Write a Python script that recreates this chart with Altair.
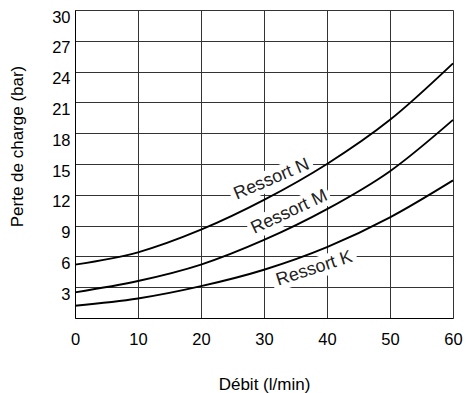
import altair as alt
import pandas as pd

# Data
debit = [0, 10, 20, 30, 40, 50, 60]
ressort_n = [5.2, 6.4, 8.6, 11.5, 15.0, 19.3, 24.8]
ressort_m = [2.5, 3.6, 5.2, 7.6, 10.6, 14.3, 19.3]
ressort_k = [1.2, 1.9, 3.1, 4.7, 6.9, 9.8, 13.4]

x_ticks = [0, 10, 20, 30, 40, 50, 60]
y_ticks = [3, 6, 9, 12, 15, 18, 21, 24, 27, 30]

# Curve labels (annotation anchors in data units)
label_text = ["Ressort N", "Ressort M", "Ressort K"]
label_x = [31.2, 34.0, 38.0]
label_y = [13.5, 10.3, 4.8]
label_angle = [337, 335, 342]

rows = []
for name, vals in [("N", ressort_n), ("M", ressort_m), ("K", ressort_k)]:
    for x, y in zip(debit, vals):
        rows.append({"serie": name, "debit": x, "perte": y})
df = pd.DataFrame(rows)

labels = pd.DataFrame({"txt": label_text, "x": label_x, "y": label_y, "a": label_angle})

FONT = "Liberation Sans"
W, H = 378, 308

xscale = alt.Scale(domain=[0, 60], nice=False, zero=False)
yscale = alt.Scale(domain=[0, 30], nice=False, zero=False)

xaxis = alt.Axis(values=x_ticks, tickCount=20, title="Débit (l/min)", grid=True, ticks=False, tickSize=0,
                 labelPadding=13, titlePadding=29, labelFontSize=16.5, titleFontSize=17,
                 labelFont=FONT, titleFont=FONT, labelColor="black", titleColor="black",
                 titleFontWeight="normal", gridColor="#333", gridOpacity=1, domainColor="black",
                 labelFlush=False, labelOverlap=False)
yaxis = alt.Axis(values=y_ticks, tickCount=20, title="Perte de charge (bar)", grid=True, ticks=False, tickSize=0,
                 labelPadding=5, titlePadding=25, labelFontSize=16.5, titleFontSize=17,
                 labelFont=FONT, titleFont=FONT, labelColor="black", titleColor="black",
                 titleFontWeight="normal", gridColor="#333", gridOpacity=1, domainColor="black",
                 labelBaseline="top", labelOffset=-1, labelFlush=False, labelOverlap=False,
                 titleY=136)

curves = alt.Chart(df).mark_line(color="black", strokeWidth=1.9, interpolate="monotone").encode(
    x=alt.X("debit:Q", scale=xscale, axis=xaxis),
    y=alt.Y("perte:Q", scale=yscale, axis=yaxis),
    detail="serie:N",
)

boxes = alt.Chart(labels).mark_point(
    shape="M-1,-0.24L1,-0.24L1,0.24L-1,0.24Z", filled=True, color="white", opacity=1,
    size=7744, strokeWidth=0,
).encode(
    x=alt.X("x:Q", scale=xscale, axis=xaxis),
    y=alt.Y("y:Q", scale=yscale, axis=yaxis),
    angle=alt.Angle("a:Q", scale=None),
)

texts = alt.Chart(labels).mark_text(
    font=FONT, fontSize=18, color="#222", baseline="middle", align="center",
).encode(
    x=alt.X("x:Q", scale=xscale, axis=xaxis),
    y=alt.Y("y:Q", scale=yscale, axis=yaxis),
    text="txt:N",
    angle=alt.Angle("a:Q", scale=None),
)

chart = alt.layer(boxes, curves, texts).properties(
    width=W, height=H,
    autosize=alt.AutoSizeParams(type="none"),
    padding={"left": 67, "top": 2, "right": 10, "bottom": 75},
).configure_view(stroke="black", strokeWidth=1).configure(background="white")

chart.save("out.html", embed_options={"renderer": "svg", "actions": False})
